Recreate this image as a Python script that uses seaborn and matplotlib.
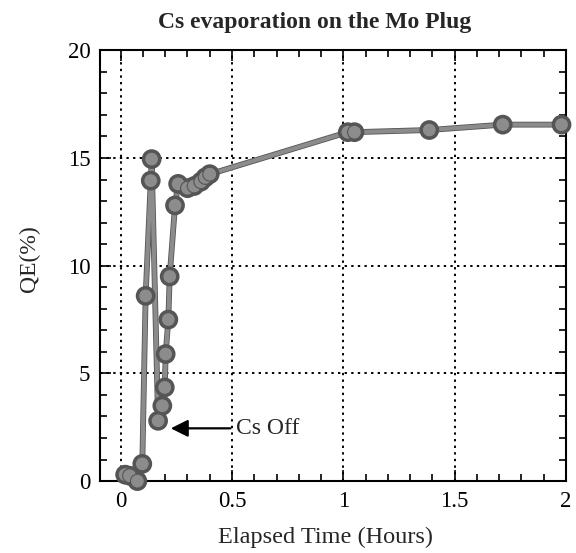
import matplotlib
matplotlib.use("Agg")
import matplotlib.pyplot as plt
import matplotlib.patheffects as pe
from matplotlib.ticker import MultipleLocator
import pandas as pd
import seaborn as sns

# ── data ──────────────────────────────────────────────────────
hours = [0.02, 0.04, 0.075, 0.097, 0.112, 0.135, 0.139, 0.168, 0.187, 0.198,
         0.202, 0.214, 0.220, 0.244, 0.258, 0.30, 0.33, 0.36, 0.38, 0.40,
         1.02, 1.05, 1.386, 1.716, 1.98]
qe = [0.3, 0.25, 0.0, 0.8, 8.6, 13.95, 14.95, 2.8, 3.5, 4.35,
      5.9, 7.5, 9.5, 12.8, 13.8, 13.6, 13.7, 13.9, 14.1, 14.25,
      16.2, 16.2, 16.3, 16.55, 16.55]

title = "Cs evaporation on the Mo Plug"
xlabel = "Elapsed Time (Hours)"
ylabel = "QE(%)"
note = "Cs Off"

df = pd.DataFrame({"hours": hours, "qe": qe})

sns.set_theme(style="ticks")
plt.rcParams["font.family"] = ["Liberation Serif", "DejaVu Serif"]

fig = plt.figure(figsize=(5.76, 5.53), dpi=100)
ax = fig.add_axes([0.1736, 0.130, 0.809, 0.779])

sns.lineplot(data=df, x="hours", y="qe", sort=False, estimator=None, ax=ax,
             color="#8c8c8c", linewidth=3.0, marker="o", markersize=10,
             markerfacecolor="#8c8c8c", markeredgecolor="#555555",
             markeredgewidth=0.8, zorder=3, clip_on=False,
             path_effects=[pe.Stroke(linewidth=4.2, foreground="#555555"),
                           pe.Normal()])

ax.set_xlim(-0.093, 2.0)
ax.set_ylim(0, 20)
ax.xaxis.set_major_locator(MultipleLocator(0.5))
ax.xaxis.set_minor_locator(MultipleLocator(0.1))
ax.yaxis.set_major_locator(MultipleLocator(5))
ax.yaxis.set_minor_locator(MultipleLocator(1))
ax.set_xticks([0, 0.5, 1, 1.5, 2])
ax.set_xticklabels(["0", "0.5", "1", "1.5", "2"])

ax.grid(True, which="major", linestyle=(0, (1.2, 2.2)), color="black", linewidth=1.4)
ax.tick_params(which="both", direction="in", top=True, right=True,
               colors="black", labelsize=16.5, width=1.2)
ax.tick_params(which="major", length=8, pad=7)
ax.tick_params(which="minor", length=5)
for s in ax.spines.values():
    s.set_color("black")
    s.set_linewidth(1.5)

ax.set_title(title, fontsize=17, fontweight="bold", pad=16, x=0.46)
ax.set_xlabel(xlabel, fontsize=17.5, labelpad=11)
ax.set_ylabel(ylabel, fontsize=17, labelpad=20)
ax.xaxis.label.set_x(0.485)
ax.yaxis.label.set_y(0.517)

ax.annotate(note, xy=(0.225, 2.45), xytext=(0.52, 2.45),
            fontsize=17, va="center", ha="left",
            arrowprops=dict(arrowstyle="-|>", color="black", lw=1.6,
                            mutation_scale=26, shrinkA=2, shrinkB=0))

fig.savefig("out.png", dpi=100)
